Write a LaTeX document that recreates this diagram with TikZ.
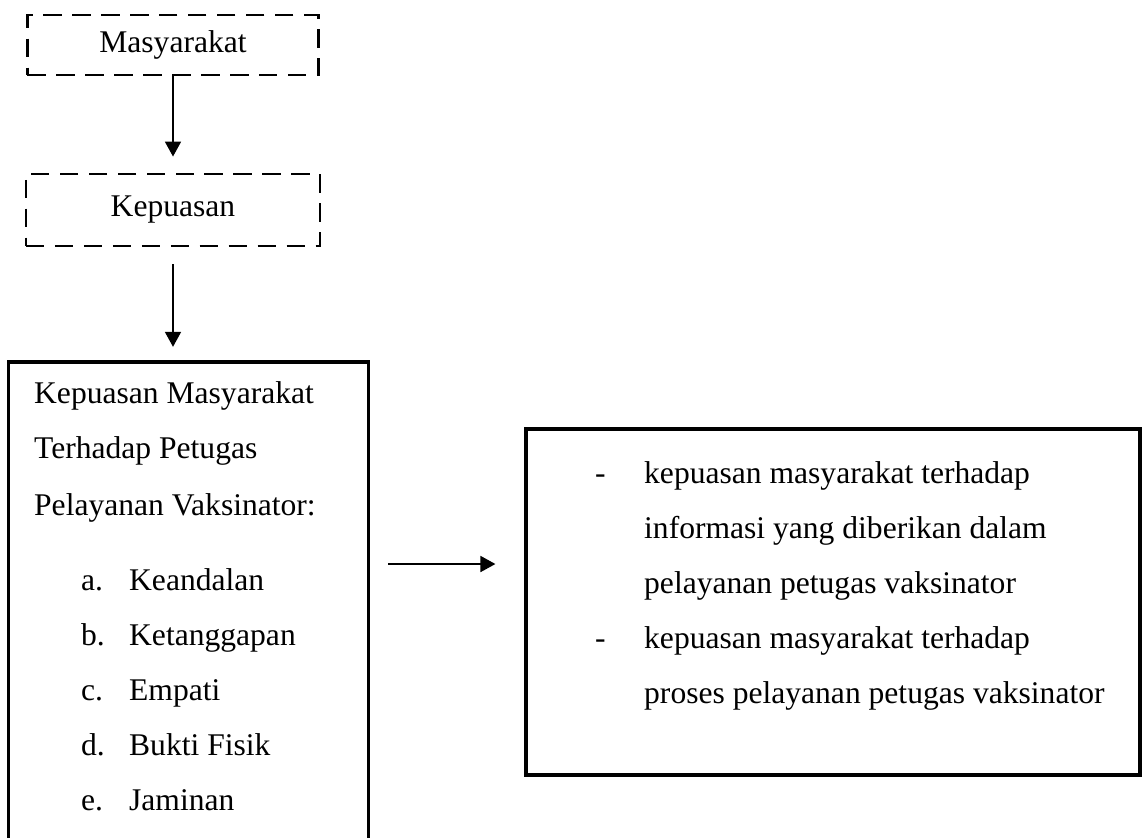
\documentclass[tikz,border=0pt]{standalone}
\usepackage{fontspec}
\setmainfont{Liberation Serif}
\usetikzlibrary{arrows.meta,positioning}

\begin{document}
\begin{tikzpicture}[x=0.38pt,y=-0.38pt,>={Triangle[length=5.7pt,width=6pt]},line width=0.9pt,font=\fontsize{12}{14}\selectfont,
  dashed box/.style={draw,dash pattern=on 7pt off 4pt,line width=1pt,inner sep=0pt},
  solid box/.style={line width=1.25pt,inner sep=0pt},
  txt/.style={anchor=base west,inner sep=0pt}]
\useasboundingbox (0,0) rectangle (1144,837);

\node[dashed box,minimum width=110.6pt,minimum height=22.8pt] (masyarakat) at (173,45) {Masyarakat};
\node[dashed box,minimum width=111.7pt,minimum height=27.4pt] (kepuasan) at (173,210) {Kepuasan};
\node[inner sep=0pt,minimum width=135.7pt,minimum height=180.1pt] (kepuasan masyarakat) at (188.5,600) {};
\node[draw,solid box,minimum width=233.3pt,minimum height=131.5pt] (indikator) at (833,602) {};
\draw[solid box] (kepuasan masyarakat.south west) |- (kepuasan masyarakat.north) -| (kepuasan masyarakat.south east);

\node[txt] (judul a) at (33,403) {Kepuasan Masyarakat};
\node[txt] (judul b) at (33,458) {Terhadap Petugas};
\node[txt] (judul c) at (33,515) {Pelayanan Vaksinator:};
\foreach \huruf/\isi [count=\i] in {a./Keandalan,b./Ketanggapan,c./Empati,d./Bukti Fisik,e./Jaminan}{
  \node[txt] (huruf \i) at (80,535+55*\i) {\huruf};
  \node[txt] (dimensi \i) at (128,535+55*\i) {\isi};
}

\node[txt] (strip a) at (594,483) {-};
\node[txt] (strip b) at (594,648) {-};
\foreach \baris [count=\i] in {kepuasan masyarakat terhadap,informasi yang diberikan dalam,pelayanan petugas vaksinator,kepuasan masyarakat terhadap,proses pelayanan petugas vaksinator}
  \node[txt] (baris \i) at (643,428+55*\i) {\baris};

\coordinate (pijak) at (0,564);
\path[->] (masyarakat) edge[shorten >=6.1pt] (kepuasan);
\draw[->,shorten <=6.5pt,shorten >=5.7pt] (kepuasan) -- (kepuasan |- kepuasan masyarakat.north);
\draw[->,shorten <=7.6pt,shorten >=11pt] (kepuasan masyarakat.east |- pijak) -- (indikator.west |- pijak);
\end{tikzpicture}
\end{document}
